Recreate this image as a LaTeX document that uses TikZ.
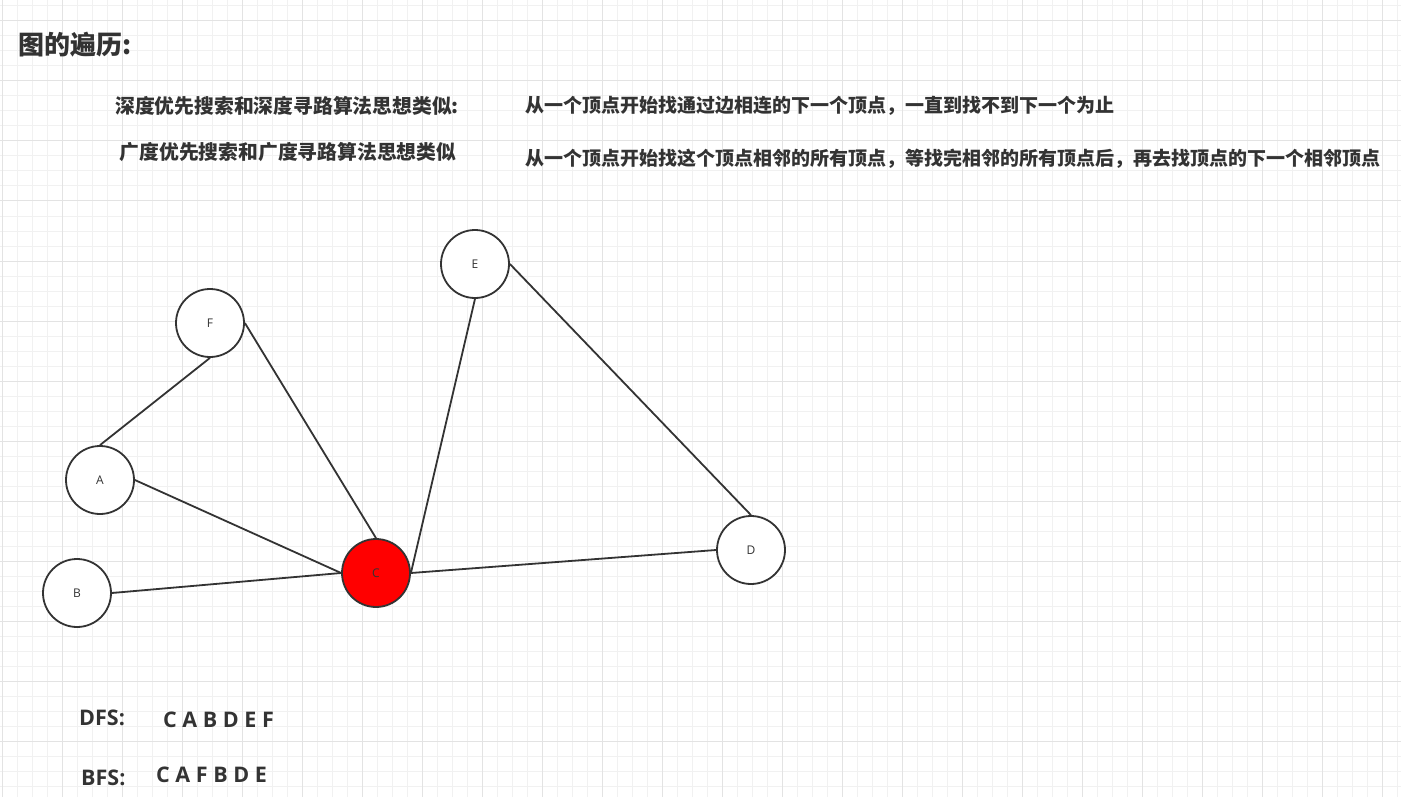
\documentclass[tikz,border=0pt]{standalone}
\usepackage{fontspec}
\usepackage{xcolor}
\setmainfont{Open Sans}
\newfontfamily\cjk{Noto Sans CJK SC}
\definecolor{ink}{HTML}{333333}
\definecolor{gridminor}{HTML}{F1F1F1}
\definecolor{gridmajor}{HTML}{E3E3E3}

\begin{document}
\begin{tikzpicture}[x=1pt, y=-1pt,
% common options for the grid:
minor/.style = {draw=gridminor, line width=1pt},
major/.style = {draw=gridmajor, line width=1pt},
% common options for the vertices:
vertex/.style = {circle, draw=ink, line width=1.8pt, fill=white,
            minimum size=68pt, inner sep=0, text=ink,
            font=\fontsize{12}{12}\selectfont},
% common options for the texts:
caption/.style = {text=ink, inner sep=0, font=\cjk\bfseries\fontsize{19}{22}\selectfont},
order/.style = {text=ink, inner sep=0, font=\bfseries\fontsize{21.5}{24}\selectfont},
edge/.style = {draw=ink, line width=1.8pt}]
\useasboundingbox (0,0) rectangle (1401,797);
\fill[white] (0,0) rectangle (1401,797);
% grid
\foreach \x in {2,17,...,1401} \draw[minor] (\x,0) -- (\x,797);
\foreach \y in {6,21,...,797} \draw[minor] (0,\y) -- (1401,\y);
\foreach \x in {2,62,...,1401} \draw[major] (\x,0) -- (\x,797);
\foreach \y in {21,81,...,797} \draw[major] (0,\y) -- (1401,\y);
% texts
\node[caption, anchor=west, font=\cjk\bfseries\fontsize{26}{30}\selectfont] (T0) at (18,45) {图的遍历:};
\node[caption, font=\cjk\bfseries\fontsize{19.8}{22}\selectfont] (T1) at (287,106) {深度优先搜索和深度寻路算法思想类似:};
\node[caption, font=\cjk\bfseries\fontsize{19.8}{22}\selectfont] (T2) at (288,152) {广度优先搜索和广度寻路算法思想类似};
\node[caption, anchor=west] (R1) at (525,106) {从一个顶点开始找通过边相连的下一个顶点，一直到找不到下一个为止};
\node[caption, anchor=west] (R2) at (525,159) {从一个顶点开始找这个顶点相邻的所有顶点，等找完相邻的所有顶点后，再去找顶点的下一个相邻顶点};
% vertices
\node[vertex] (E) at (475,264) {E};
\node[vertex] (F) at (210,323) {F};
\node[vertex] (A) at (100,480) {A};
\node[vertex] (B) at (77,593) {B};
\node[vertex, fill=red] (C) at (376,573) {C};
\node[vertex] (D) at (751,550) {D};
% edges
\draw[edge] (F.south) to (A.north);
\draw[edge] (F.east) to (C.north);
\draw[edge] (A.east) to (C.west);
\draw[edge] (B.east) to (C.west);
\draw[edge] (E.south) to (C.east);
\draw[edge] (E.east) to (D.north);
\draw[edge] (C.east) to (D.west);
% traversal orders
\node[order, anchor=west] (DFS) at (79,718) {DFS:};
\node[order, anchor=west] (DFSo) at (163,720) {C A B D E F};
\node[order, anchor=west] (BFS) at (81,778) {BFS:};
\node[order, anchor=west] (BFSo) at (156,775) {C A F B D E};
\end{tikzpicture}
\end{document}
